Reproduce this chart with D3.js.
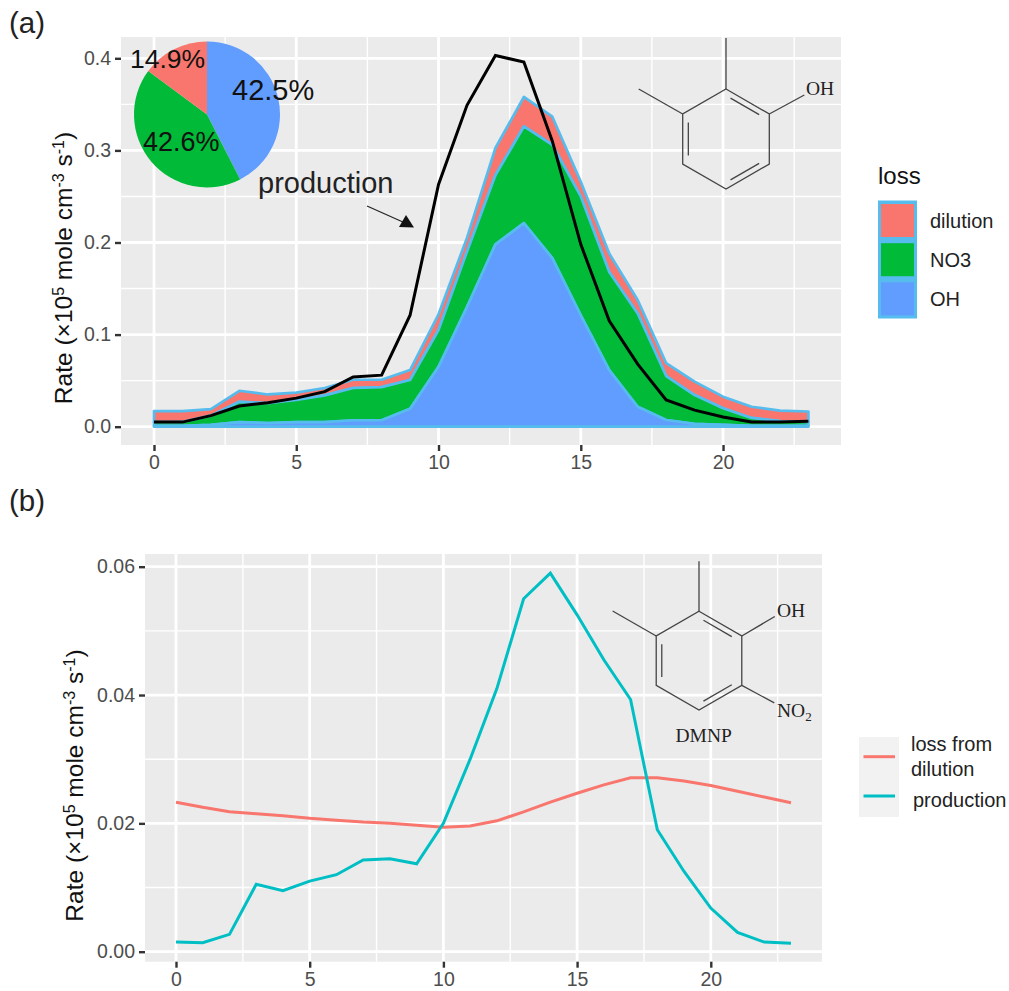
<!DOCTYPE html>
<html><head><meta charset="utf-8">
<script src="https://cdn.jsdelivr.net/npm/d3@7"></script>
<style>html,body{margin:0;padding:0;background:#fff}svg{display:block}text{font-family:"Liberation Sans",Arial,sans-serif}</style>
</head><body><svg id="c" width="1009" height="991"></svg>
<script>
const hours = d3.range(0, 24);
const lossKeys = ["OH", "NO3", "dilution"];
const lossLegend = ["dilution", "NO3", "OH"];
const lossOH = [.001,.001,.002,.005,.004,.005,.005,.007,.007,.0195,.065,.13,.198,.221,.183,.121,.0615,.0217,.0073,.003,.002,.001,.001,.001];
const lossNO3 = [.004,.004,.010,.022,.0215,.024,.029,.035,.036,.0312,.04,.06,.075,.105,.123,.129,.1065,.1013,.0477,.0314,.018,.0085,.005,.004];
const lossDilution = [.012,.012,.007,.012,.0095,.008,.008,.009,.008,.0108,.017,.015,.0296,.032,.0306,.016,.02,.0145,.014,.0146,.0126,.0122,.0114,.0115];
const productionA = [.005,.005,.012,.0225,.026,.031,.038,.054,.056,.121,.263,.349,.403,.396,.31,.198,.115,.068,.029,.018,.0105,.005,.005,.006];
const dilutionB = [.0233,.0225,.0218,.0215,.0212,.0208,.0205,.0202,.02,.0197,.0194,.0196,.0204,.0218,.0233,.0247,.026,.0271,.0271,.0266,.0259,.025,.0241,.0232];
const productionB = [.0015,.0014,.0027,.0105,.0095,.011,.012,.0143,.0145,.0137,.02,.03,.041,.055,.059,.0525,.0455,.0393,.019,.0125,.0068,.003,.0015,.0013];
const pieLabels = ["OH", "NO3", "dilution"];
const pieValues = [42.5, 42.6, 14.9];
const xTicks = [0, 5, 10, 15, 20];
const xMinor = [2.5, 7.5, 12.5, 17.5, 22.5];
const yTicksA = [0, .1, .2, .3, .4];
const yMinorA = [.05, .15, .25, .35];
const yTicksB = [0, .02, .04, .06];
const yMinorB = [.01, .03, .05];
const colors = {dilution: "#F8766D", NO3: "#00BA38", OH: "#619CFF"};
const outline = "#56BCEE";
const teal = "#00BFC4";

const svg = d3.select("#c");

function panel(box, x, y, xt, xm, yt, ym, fmt) {
  const g = svg.append("g");
  g.append("rect").attr("x", box.l).attr("y", box.t).attr("width", box.r - box.l).attr("height", box.b - box.t).attr("fill", "#EBEBEB");
  const v = (vals, w) => g.selectAll(null).data(vals).enter().append("line")
    .attr("x1", d => x(d)).attr("x2", d => x(d)).attr("y1", box.t).attr("y2", box.b).attr("stroke", "#fff").attr("stroke-width", w);
  const h = (vals, w) => g.selectAll(null).data(vals).enter().append("line")
    .attr("y1", d => y(d)).attr("y2", d => y(d)).attr("x1", box.l).attr("x2", box.r).attr("stroke", "#fff").attr("stroke-width", w);
  v(xm, 1.4); h(ym, 1.4); v(xt, 2.8); h(yt, 2.8);
  const ax = d3.axisBottom(x).tickValues(xt).tickSize(6).tickPadding(4).tickFormat(d3.format("d"));
  const ay = d3.axisLeft(y).tickValues(yt).tickSize(6).tickPadding(4).tickFormat(fmt);
  [[ax, `translate(0,${box.b})`], [ay, `translate(${box.l},0)`]].forEach(([a, t]) => {
    const s = g.append("g").attr("transform", t).call(a);
    s.select(".domain").remove();
    s.selectAll("line").attr("stroke", "#333").attr("stroke-width", 2.4);
    s.selectAll("text").attr("fill", "#4D4D4D").style("font-size", "19.5px").style("font-family", '"Liberation Sans",Arial,sans-serif');
  });
}

function rateTitle(cx, cy) {
  const t = svg.append("text").attr("transform", `translate(${cx},${cy}) rotate(-90)`).attr("text-anchor", "middle").attr("font-size", 24.5).attr("fill", "#111");
  const parts = [["Rate (×10"], ["5", 1], [" mole cm"], ["-3", 1], [" s"], ["-1", 1], [")"]];
  let up = false;
  parts.forEach(([s, sup]) => {
    const dy = sup ? -8 : (up ? 8 : 0);
    t.append("tspan").attr("dy", dy).attr("font-size", sup ? 16 : 24.5).text(s);
    up = !!sup;
  });
}

function molecule(c, r, doubles, bonds) {
  const g = svg.append("g").attr("stroke", "#444").attr("stroke-width", 1.3).attr("fill", "none");
  const rx = r * Math.sqrt(3) / 2;
  const pts = [[0,-r],[rx,-r/2],[rx,r/2],[0,r],[-rx,r/2],[-rx,-r/2]].map(p => [c[0] + p[0], c[1] + p[1]]);
  g.append("path").attr("d", d3.line()(pts) + "Z");
  doubles.forEach(i => {
    const a = pts[i], b = pts[(i + 1) % 6];
    const k = 0.13, s = 0.12;
    const ia = [a[0] + (c[0]-a[0])*k, a[1] + (c[1]-a[1])*k], ib = [b[0] + (c[0]-b[0])*k, b[1] + (c[1]-b[1])*k];
    const p1 = [ia[0] + (ib[0]-ia[0])*s, ia[1] + (ib[1]-ia[1])*s], p2 = [ib[0] + (ia[0]-ib[0])*s, ib[1] + (ia[1]-ib[1])*s];
    g.append("line").attr("x1", p1[0]).attr("y1", p1[1]).attr("x2", p2[0]).attr("y2", p2[1]);
  });
  bonds.forEach(([i, dx, dy]) => g.append("line").attr("x1", pts[i][0]).attr("y1", pts[i][1]).attr("x2", pts[i][0] + dx).attr("y2", pts[i][1] + dy));
}
function serif(x, y, s, size) {
  return svg.append("text").attr("x", x).attr("y", y).style("font-family", '"Liberation Serif",serif').attr("font-size", size || 19.5).attr("fill", "#222").text(s);
}

/* ---------- panel (a) ---------- */
const boxA = {l: 121, r: 841, t: 37, b: 445};
const xA = d3.scaleLinear().domain([0, 23]).range([154, 808.4]);
const yA = d3.scaleLinear().domain([0, .4]).range([426.7, 58.3]);
panel(boxA, xA, yA, xTicks, xMinor, yTicksA, yMinorA, d3.format(".1f"));

const rows = hours.map((h, i) => ({h, OH: lossOH[i], NO3: lossNO3[i], dilution: lossDilution[i]}));
const stacked = d3.stack().keys(lossKeys)(rows);
const area = d3.area().x(d => xA(d.data.h)).y0(d => yA(d[0])).y1(d => yA(d[1]));
svg.append("g").selectAll("path").data(stacked.slice().reverse()).enter().append("path")
  .attr("d", area).attr("fill", d => colors[d.key]).attr("stroke", outline).attr("stroke-width", 2.7).attr("stroke-linejoin", "round");
svg.append("path").datum(productionA)
  .attr("d", d3.line().x((d, i) => xA(i)).y(d => yA(d)))
  .attr("fill", "none").attr("stroke", "#000").attr("stroke-width", 3);

const pieG = svg.append("g").attr("transform", "translate(207,114.4)");
const arc = d3.arc().innerRadius(0).outerRadius(73);
pieG.selectAll("path").data(d3.pie().sort(null)(pieValues)).enter().append("path")
  .attr("d", arc).attr("fill", (d, i) => colors[pieLabels[i]]);
[["14.9%", 130, 68, 26.5], ["42.5%", 232, 100, 29], ["42.6%", 143, 151, 27]].forEach(([s, x, y, f]) =>
  svg.append("text").attr("x", x).attr("y", y).attr("font-size", f).attr("fill", "#111").text(s));

svg.append("text").attr("x", 258).attr("y", 193).attr("font-size", 29).attr("fill", "#222").text("production");
svg.append("line").attr("x1", 367).attr("y1", 206).attr("x2", 404).attr("y2", 222.5).attr("stroke", "#222").attr("stroke-width", 1.2);
svg.append("path").attr("d", "M414 227.5L399 227L406 215Z").attr("fill", "#111");

molecule([726, 139], 50, [0, 2, 4], [[0, 0, -51], [5, -44, -25], [1, 35, -19]]);
serif(806, 95, "OH");

svg.append("text").attr("x", 878).attr("y", 184).attr("font-size", 24).attr("fill", "#111").text("loss");
svg.append("rect").attr("x", 878).attr("y", 200.5).attr("width", 39).attr("height", 118).attr("fill", outline);
lossLegend.forEach((k, i) => {
  svg.append("rect").attr("x", 881).attr("y", 204 + i * 39.2).attr("width", 33).attr("height", 33).attr("fill", colors[k]);
  svg.append("text").attr("x", 930).attr("y", 227.5 + i * 39).attr("font-size", 20).attr("fill", "#222").text(k);
});

/* ---------- panel (b) ---------- */
const boxB = {l: 145, r: 822, t: 554, b: 961.7};
const xB = d3.scaleLinear().domain([0, 23]).range([176, 791]);
const yB = d3.scaleLinear().domain([0, .06]).range([951.7, 566.7]);
panel(boxB, xB, yB, xTicks, xMinor, yTicksB, yMinorB, d3.format(".2f"));
const lineB = d3.line().x((d, i) => xB(i)).y(d => yB(d));
svg.append("path").datum(dilutionB).attr("d", lineB).attr("fill", "none").attr("stroke", colors.dilution).attr("stroke-width", 3);
svg.append("path").datum(productionB).attr("d", lineB).attr("fill", "none").attr("stroke", teal).attr("stroke-width", 3);

molecule([699, 660.7], 49.4, [0, 2, 4], [[0, 0, -50], [5, -43.6, -25], [1, 33, -19.5], [2, 32.5, 17.5]]);
serif(777, 617, "OH");
const no2 = serif(777, 716.5, "NO");
no2.append("tspan").attr("font-size", 13).attr("dy", 4).text("2");
serif(675.5, 741.5, "DMNP");

svg.append("rect").attr("x", 859).attr("y", 737).attr("width", 40).attr("height", 80).attr("fill", "#F2F2F2");
[[756.7, colors.dilution], [796, teal]].forEach(([y, c]) =>
  svg.append("line").attr("x1", 863.5).attr("x2", 895).attr("y1", y).attr("y2", y).attr("stroke", c).attr("stroke-width", 3));
[["loss from", 911, 751], ["dilution", 911, 776], ["production", 913, 807]].forEach(([s, x, y]) =>
  svg.append("text").attr("x", x).attr("y", y).attr("font-size", 20).attr("fill", "#222").text(s));

rateTitle(72, 268);
rateTitle(83, 785.5);
[["(a)", 33], ["(b)", 511]].forEach(([s, y]) =>
  svg.append("text").attr("x", 9).attr("y", y).attr("font-size", 29.5).attr("fill", "#222").text(s));
</script></body></html>
